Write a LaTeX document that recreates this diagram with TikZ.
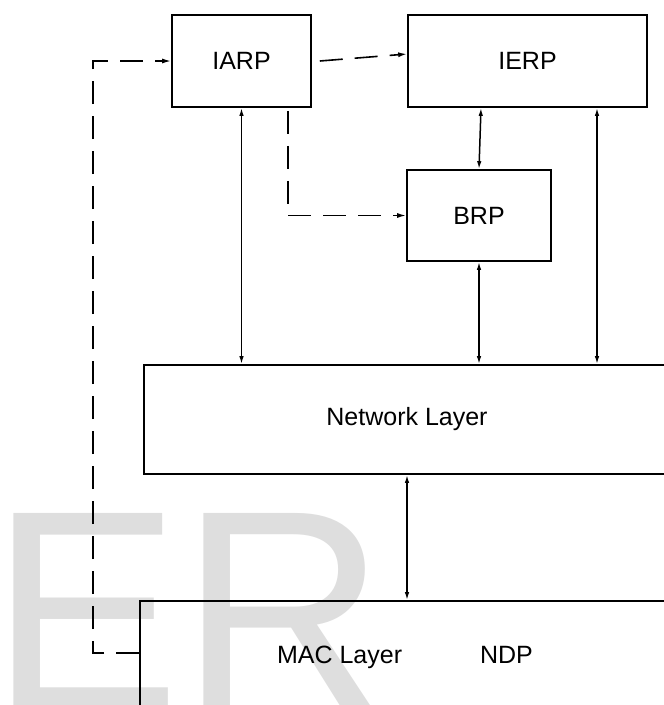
\documentclass[tikz,border=0pt]{standalone}
\usepackage{fontspec}
\setmainfont{Liberation Sans}
\usetikzlibrary{arrows.meta}

\tikzset{
  block/.style={draw, line width=1.6pt, inner sep=0pt, font=\fontsize{25}{30}\selectfont},
  link/.style={line width=1.5pt, {Latex[length=8pt,width=4.5pt]}-{Latex[length=8pt,width=4.5pt]}},
  dlink/.style={line width=1.6pt, dash pattern=on 23pt off 12pt, -{Latex[length=9pt,width=5pt]}}
}

\begin{document}
\begin{tikzpicture}[x=1pt, y=-1pt]
  \useasboundingbox (0,0) rectangle (664,705);
  \clip (0,0) rectangle (664,705);

  % Watermark
  \node[anchor=base west, inner sep=0pt, text=black!13, font=\fontsize{285}{285}\selectfont] (wm) at (-10,709) {ER};

  % Protocol boxes
  \node[block, minimum width=139pt, minimum height=92pt] (iarp) at (241.5,61) {IARP};
  \node[block, minimum width=239pt, minimum height=92pt] (ierp) at (527.5,61) {IERP};
  \node[block, minimum width=144pt, minimum height=91pt] (brp) at (479,215.5) {BRP};

  % Layers
  \node[block, minimum width=526pt, minimum height=109pt] (net) at (407,419.5) {Network Layer};
  \node[block, minimum width=530pt, minimum height=112pt] (mac) at (405,657) {MAC Layer\hspace{78pt}NDP};

  % Solid links
  \draw[link] (iarp.south) -- (iarp.south |- net.north);
  \draw[link] ([xshift=-46.5pt]ierp.south) -- (brp.north);
  \draw[link] (brp.south) -- (brp.south |- net.north);
  \coordinate (ierpr) at ([xshift=69.5pt]ierp.south);
  \draw[link] (ierpr) -- (ierpr |- net.north);
  \draw[link] (net.south) -- (net.south |- mac.north);

  % Dashed links
  \draw[dlink] ([xshift=8pt]iarp.east) -- ([yshift=7pt]ierp.west);
  \draw[dlink] ([xshift=46.5pt,yshift=-3pt]iarp.south) |- (brp.west);
  \draw[dlink] ([yshift=4pt]mac.west) -- ++(-46,0) |- (iarp.west);
\end{tikzpicture}
\end{document}
